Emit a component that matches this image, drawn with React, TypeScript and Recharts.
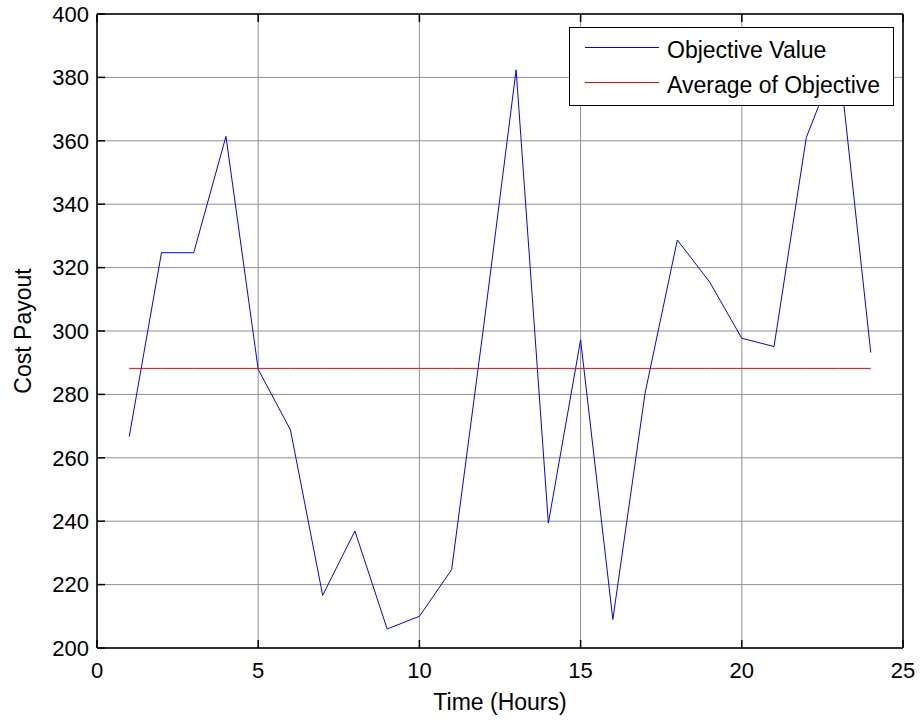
import React from 'react';
import { LineChart, Line, XAxis, YAxis, CartesianGrid, Legend } from 'recharts';

const hours = [1, 2, 3, 4, 5, 6, 7, 8, 9, 10, 11, 12, 13, 14, 15, 16, 17, 18, 19, 20, 21, 22, 23, 24];
const objectiveValues = [
  266.7, 324.7, 324.7, 361.4, 287.9, 268.8, 216.6, 236.9, 206.0, 210.0, 224.7, 302.0,
  382.4, 239.4, 297.2, 209.0, 280.4, 328.7, 315.5, 297.7, 295.1, 361.0, 387.0, 293.2,
];
const averageOfObjective = 288.2;
const xTicks = [0, 5, 10, 15, 20, 25];
const yTicks = [200, 220, 240, 260, 280, 300, 320, 340, 360, 380, 400];
const seriesNames = ['Objective Value', 'Average of Objective'];
const seriesColors = ['#0000ff', '#ff0000'];

const data = hours.map((h, i) => ({ hour: h, value: objectiveValues[i], avg: averageOfObjective }));

const FONT = '"Liberation Sans", Arial, Helvetica, sans-serif';

const LegendBox = () => {
  return (
    <div
      style={{
        width: 323,
        height: 75,
        border: '1px solid #000',
        background: '#fff',
        paddingTop: 2,
        boxSizing: 'content-box',
        fontFamily: FONT,
        fontSize: 23,
        color: '#000',
      }}
    >
      {seriesNames.map((name, i) => (
        <div key={i} style={{ height: 35, lineHeight: '35px', display: 'flex', alignItems: 'center', whiteSpace: 'nowrap' }}>
          <svg width={97} height={35} style={{ display: 'block', flex: '0 0 auto' }}>
            <line x1={15} x2={89} y1={17.5} y2={17.5} stroke={seriesColors[i]} strokeWidth={1} />
          </svg>
          <span style={{ position: 'relative', top: 3 }}>{name}</span>
        </div>
      ))}
    </div>
  );
};

const YLabel = (props: any) => {
  const vb = props.viewBox || { x: 0, y: 0, width: 0, height: 0 };
  const cx = vb.x + 23;
  const cy = vb.y + vb.height / 2;
  return (
    <text
      x={cx}
      y={cy}
      transform={`rotate(-90, ${cx}, ${cy})`}
      textAnchor="middle"
      dominantBaseline="central"
      fontFamily={FONT}
      fontSize={23}
      fill="#000"
    >
      Cost Payout
    </text>
  );
};

const XLabel = (props: any) => {
  const vb = props.viewBox || { x: 0, y: 0, width: 0, height: 0 };
  return (
    <text
      x={vb.x + vb.width / 2}
      y={vb.y + 62}
      textAnchor="middle"
      fontFamily={FONT}
      fontSize={23}
      fill="#000"
    >
      Time (Hours)
    </text>
  );
};

const EmptyTick = () => <g />;

export default function App() {
  return (
    <div style={{ position: 'absolute', left: 0, top: 0, width: 922, height: 721, background: '#fff' }}>
      <LineChart width={922} height={721} data={data} margin={{ top: 13, right: 18, bottom: 0, left: 0 }}>
        <CartesianGrid stroke="#909090" strokeWidth={1} />
        <XAxis
          xAxisId={0}
          dataKey="hour"
          type="number"
          domain={[0, 25]}
          ticks={xTicks}
          interval={0}
          height={73}
          tickSize={-8}
          tickMargin={22}
          axisLine={{ stroke: '#000', strokeWidth: 1.5 }}
          tickLine={{ stroke: '#000', strokeWidth: 1.5 }}
          tick={{ fill: '#000', fontSize: 22, fontFamily: FONT }}
          label={{ content: XLabel }}
        />
        <XAxis
          xAxisId="top"
          orientation="top"
          dataKey="hour"
          type="number"
          domain={[0, 25]}
          ticks={xTicks}
          interval={0}
          height={1}
          tickSize={-8}
          tick={EmptyTick}
          axisLine={{ stroke: '#000', strokeWidth: 1.5 }}
          tickLine={{ stroke: '#000', strokeWidth: 1.5 }}
        />
        <YAxis
          yAxisId={0}
          type="number"
          domain={[200, 400]}
          ticks={yTicks}
          interval={0}
          width={97}
          tickSize={-8}
          tickMargin={16}
          axisLine={{ stroke: '#000', strokeWidth: 1.5 }}
          tickLine={{ stroke: '#000', strokeWidth: 1.5 }}
          tick={{ fill: '#000', fontSize: 22, fontFamily: FONT }}
          label={{ content: YLabel }}
        />
        <YAxis
          yAxisId="right"
          orientation="right"
          type="number"
          domain={[200, 400]}
          ticks={yTicks}
          interval={0}
          width={1}
          tickSize={-8}
          tick={EmptyTick}
          axisLine={{ stroke: '#000', strokeWidth: 1.5 }}
          tickLine={{ stroke: '#000', strokeWidth: 1.5 }}
        />
        <Line
          xAxisId={0}
          yAxisId={0}
          type="linear"
          dataKey="value"
          name={seriesNames[0]}
          stroke={seriesColors[0]}
          strokeWidth={1}
          dot={false}
          activeDot={false}
          isAnimationActive={false}
        />
        <Line
          xAxisId={0}
          yAxisId={0}
          type="linear"
          dataKey="avg"
          name={seriesNames[1]}
          stroke={seriesColors[1]}
          strokeWidth={1}
          dot={false}
          activeDot={false}
          isAnimationActive={false}
        />
        <Legend
          layout="vertical"
          align="center"
          verticalAlign="middle"
          content={LegendBox}
          wrapperStyle={{ left: 569, top: 27, width: 325, height: 77, right: 'auto', bottom: 'auto' }}
        />
      </LineChart>
    </div>
  );
}
